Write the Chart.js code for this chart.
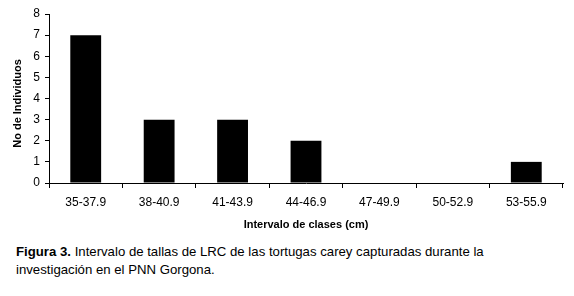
<!DOCTYPE html>
<html><head><meta charset="utf-8">
<script src="https://cdn.jsdelivr.net/npm/chart.js@4/dist/chart.umd.min.js"></script>
<style>
html,body{margin:0;padding:0;background:#fff;width:574px;height:296px;overflow:hidden;}
#wrap{position:absolute;left:0;top:0;width:574px;height:232px;}
#cap{position:absolute;left:16px;top:243px;width:490px;font-family:"Liberation Sans",Arial,sans-serif;font-size:13.2px;line-height:18px;color:#000;}
</style></head><body>
<div id="wrap"><canvas id="c" width="574" height="232"></canvas></div>
<div id="cap"><b>Figura 3.</b> Intervalo de tallas de LRC de las tortugas carey capturadas durante la investigación en el PNN Gorgona.</div>
<script>
const categories = ["35-37.9","38-40.9","41-43.9","44-46.9","47-49.9","50-52.9","53-55.9"];
const individuos = [7,3,3,2,0,0,1];
const xTitle = "Intervalo de clases (cm)";
const yTitle = "No de Individuos";
const font = "'Liberation Sans', Arial, sans-serif";
const yTitlePlugin = {
  id: 'yTitlePlugin',
  afterDraw(chart) {
    const ctx = chart.ctx, a = chart.chartArea;
    ctx.save();
    ctx.translate(18, (a.top + a.bottom) / 2 + 5);
    ctx.rotate(-Math.PI / 2);
    ctx.font = "bold 11px " + font;
    ctx.fillStyle = '#000';
    ctx.textAlign = 'center';
    ctx.textBaseline = 'middle';
    ctx.fillText(yTitle, 0, 0);
    ctx.restore();
  }
};
new Chart(document.getElementById('c'), {
  type: 'bar',
  data: { labels: categories, datasets: [{ data: individuos, backgroundColor: '#000', borderWidth: 0, categoryPercentage: 1, barPercentage: 0.42 }] },
  options: {
    responsive: false, animation: false,
    layout: { padding: { left: 0, top: 14, right: 11, bottom: 0 } },
    plugins: { legend: { display: false }, tooltip: { enabled: false } },
    scales: {
      x: {
        grid: { offset: true, drawOnChartArea: false, tickLength: 5, color: '#000', lineWidth: 1 },
        border: { color: '#000', width: 1 },
        ticks: { color: '#000', font: { family: font, size: 12 }, padding: 7, maxRotation: 0 },
        title: { display: true, text: xTitle, color: '#000', font: { family: font, size: 11, weight: 'bold' }, padding: { top: 5, bottom: 0 } },
        afterFit: s => { s.height = 49; }
      },
      y: {
        min: 0, max: 8,
        grid: { drawOnChartArea: false, tickLength: 4, color: '#000', lineWidth: 1 },
        border: { color: '#000', width: 1 },
        ticks: { stepSize: 1, color: '#000', font: { family: font, size: 12 }, padding: 5 },
        afterFit: s => { s.width = 49; }
      }
    }
  },
  plugins: [yTitlePlugin]
});
</script></body></html>
